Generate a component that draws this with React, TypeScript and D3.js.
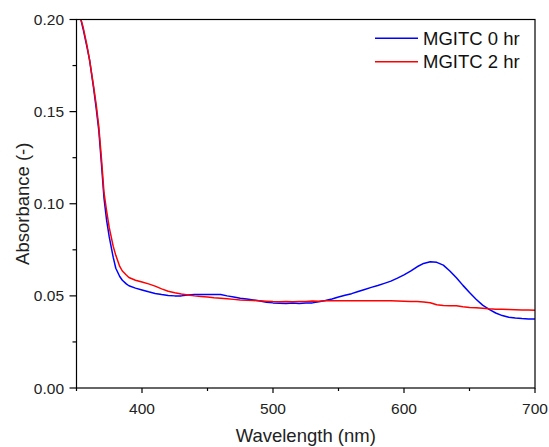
import React, { useEffect, useRef } from "react";
import * as d3 from "d3";

const wavelengths = [350, 353, 355, 358, 360, 363, 365, 367, 369, 371, 373, 375, 378, 380, 383, 385, 388, 390, 395, 400, 405, 410, 415, 420, 425, 430, 435, 440, 445, 450, 455, 460, 465, 470, 475, 480, 485, 490, 495, 500, 505, 510, 515, 520, 525, 530, 535, 540, 545, 550, 555, 560, 565, 570, 575, 580, 585, 590, 595, 600, 605, 610, 615, 620, 625, 630, 635, 640, 645, 650, 655, 660, 665, 670, 675, 680, 685, 690, 695, 700];

const mgitc0 = [0.212, 0.201, 0.195, 0.185, 0.178, 0.163, 0.152, 0.140, 0.122, 0.103, 0.091, 0.082, 0.071, 0.065, 0.0605, 0.0585, 0.0565, 0.0555, 0.0542, 0.0532, 0.0522, 0.0513, 0.0507, 0.0502, 0.0500, 0.0500, 0.0505, 0.0507, 0.0508, 0.0508, 0.0508, 0.0507, 0.0500, 0.0494, 0.0487, 0.0483, 0.0478, 0.0472, 0.0466, 0.0462, 0.0460, 0.0458, 0.0461, 0.0459, 0.0461, 0.0462, 0.0468, 0.0475, 0.0483, 0.0494, 0.0503, 0.0512, 0.0524, 0.0535, 0.0546, 0.0556, 0.0568, 0.0580, 0.0596, 0.0614, 0.0634, 0.0658, 0.0676, 0.0685, 0.0682, 0.0667, 0.0635, 0.0598, 0.0557, 0.0518, 0.0482, 0.0450, 0.0427, 0.0407, 0.0393, 0.0384, 0.0380, 0.0377, 0.0375, 0.0374];

const mgitc2 = [0.213, 0.201, 0.196, 0.186, 0.178, 0.164, 0.154, 0.142, 0.125, 0.106, 0.096, 0.087, 0.077, 0.072, 0.066, 0.0635, 0.0613, 0.0600, 0.0585, 0.0575, 0.0565, 0.0553, 0.0538, 0.0525, 0.0517, 0.0510, 0.0505, 0.0500, 0.0497, 0.0494, 0.0490, 0.0487, 0.0484, 0.0481, 0.0478, 0.0476, 0.0475, 0.0473, 0.0471, 0.0469, 0.0468, 0.0470, 0.0468, 0.0469, 0.0470, 0.0472, 0.0471, 0.0474, 0.0473, 0.0473, 0.0474, 0.0473, 0.0473, 0.0474, 0.0473, 0.0473, 0.0474, 0.0473, 0.0472, 0.0471, 0.0470, 0.0469, 0.0467, 0.0463, 0.0452, 0.0448, 0.0447, 0.0446, 0.0441, 0.0437, 0.0436, 0.0433, 0.0430, 0.0428, 0.0427, 0.0426, 0.0425, 0.0424, 0.0423, 0.0422];

const seriesNames = ["MGITC 0 hr", "MGITC 2 hr"];
const seriesColors = ["#0000ff", "#ff0000"];
const xTicks = [400, 500, 600, 700];
const xMinorTicks = [350, 450, 550, 650];
const yTicks = [0, 0.05, 0.1, 0.15, 0.2];
const yMinorTicks = [0.025, 0.075, 0.125, 0.175];

const W = 549, H = 447;
const M = { left: 76.5, right: 14, top: 19.5, bottom: 59 };

export default function App() {
  const ref = useRef<SVGSVGElement>(null);
  useEffect(() => {
    const svg = d3.select(ref.current);
    svg.selectAll("*").remove();
    const x = d3.scaleLinear().domain([350, 700]).range([M.left, W - M.right]);
    const y = d3.scaleLinear().domain([0, 0.2]).range([H - M.bottom, M.top]);
    const font = "Arial, 'Liberation Sans', sans-serif";

    svg.append("defs").append("clipPath").attr("id", "clip")
      .append("rect").attr("x", M.left).attr("y", M.top)
      .attr("width", W - M.left - M.right).attr("height", H - M.top - M.bottom);

    const series = [mgitc0, mgitc2];
    const line = d3.line<number>().x((_, i) => x(wavelengths[i])).y((d) => y(d));
    const g = svg.append("g").attr("clip-path", "url(#clip)");
    series.forEach((s, k) => {
      g.append("path").datum(s).attr("d", line as any).attr("fill", "none")
        .attr("stroke", seriesColors[k]).attr("stroke-width", 1.5).attr("stroke-linejoin", "round");
    });

    // frame
    svg.append("rect").attr("x", M.left).attr("y", M.top)
      .attr("width", W - M.left - M.right).attr("height", H - M.top - M.bottom)
      .attr("fill", "none").attr("stroke", "#000").attr("stroke-width", 1.2);

    const y0 = H - M.bottom;
    const xa = svg.append("g");
    xTicks.forEach((t) => {
      xa.append("line").attr("x1", x(t)).attr("x2", x(t)).attr("y1", y0).attr("y2", y0 + 5).attr("stroke", "#000").attr("stroke-width", 1.2);
      xa.append("text").attr("x", x(t)).attr("y", 413.5).attr("text-anchor", "middle")
        .attr("font-family", font).attr("font-size", 15.5).attr("fill", "#222").text(String(t));
    });
    xMinorTicks.forEach((t) => {
      xa.append("line").attr("x1", x(t)).attr("x2", x(t)).attr("y1", y0).attr("y2", y0 + 3).attr("stroke", "#000").attr("stroke-width", 1.2);
    });
    yTicks.forEach((t) => {
      xa.append("line").attr("x1", M.left - 7).attr("x2", M.left).attr("y1", y(t)).attr("y2", y(t)).attr("stroke", "#000").attr("stroke-width", 1.2);
      xa.append("text").attr("x", 64).attr("y", y(t) + 5.5).attr("text-anchor", "end")
        .attr("font-family", font).attr("font-size", 15.5).attr("fill", "#222").text(t.toFixed(2));
    });
    yMinorTicks.forEach((t) => {
      xa.append("line").attr("x1", M.left - 4).attr("x2", M.left).attr("y1", y(t)).attr("y2", y(t)).attr("stroke", "#000").attr("stroke-width", 1.2);
    });

    svg.append("text").attr("x", (M.left + W - M.right) / 2).attr("y", 442).attr("text-anchor", "middle")
      .attr("font-family", font).attr("font-size", 18.5).attr("fill", "#222").text("Wavelength (nm)");
    svg.append("text").attr("transform", `translate(28.5,${(M.top + H - M.bottom) / 2}) rotate(-90)`)
      .attr("text-anchor", "middle").attr("font-family", font).attr("font-size", 18.5).attr("fill", "#222").text("Absorbance (-)");

    seriesNames.forEach((n, k) => {
      const ly = 38.3 + k * 23.4;
      svg.append("line").attr("x1", 375).attr("x2", 418).attr("y1", ly).attr("y2", ly)
        .attr("stroke", seriesColors[k]).attr("stroke-width", 1.5);
      svg.append("text").attr("x", 423).attr("y", ly + 6.7).attr("font-family", font)
        .attr("font-size", 18.5).attr("fill", "#111").text(n);
    });
  }, []);
  return (
    <svg ref={ref} width={W} height={H} style={{ position: "absolute", left: 0, top: 0, background: "#fff" }} />
  );
}
